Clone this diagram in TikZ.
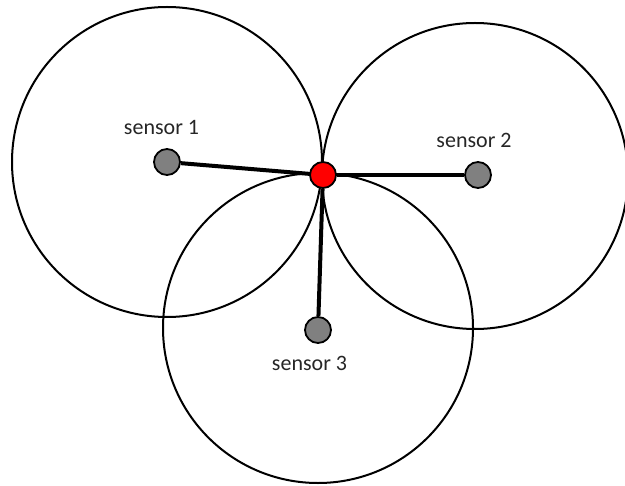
\documentclass[tikz,border=0pt]{standalone}
\usepackage{fontspec}
\setmainfont{Carlito}
\definecolor{dotgray}{RGB}{128,128,128}
\definecolor{tagtext}{RGB}{38,38,38}
\begin{document}
\begin{tikzpicture}[x=0.5pt, y=-0.5pt,
  rangecircle/.style={draw, line width=1pt},
  sensordot/.style={draw, circle, fill=dotgray, line width=0.9pt, minimum size=13pt, inner sep=0pt},
  targetdot/.style={draw, circle, fill=red, line width=0.9pt, minimum size=13pt, inner sep=0pt},
  sensortag/.style={anchor=base, text=tagtext, font=\fontsize{11}{13}\selectfont, inner sep=0pt},
  sensorlink/.style={line width=2pt}]
\useasboundingbox (0,0) rectangle (625,486);
\draw[rangecircle] (167,162) circle[radius=155];
\draw[rangecircle] (475,176) circle[radius=153];
\draw[rangecircle] (318,328) circle[radius=155];
\node[sensordot] (s1) at (167,162) {};
\node[sensordot] (s2) at (478,175) {};
\node[sensordot] (s3) at (318,330) {};
\node[targetdot] (t) at (323,175) {};
\node[sensortag] (l1) at (161.5,135) {sensor 1};
\node[sensortag] (l2) at (474,148) {sensor 2};
\node[sensortag] (l3) at (309.5,370) {sensor 3};
\draw[sensorlink] (t) -- (s1);
\draw[sensorlink] (t) -- (s2);
\draw[sensorlink] (t) -- (s3);
\end{tikzpicture}
\end{document}
